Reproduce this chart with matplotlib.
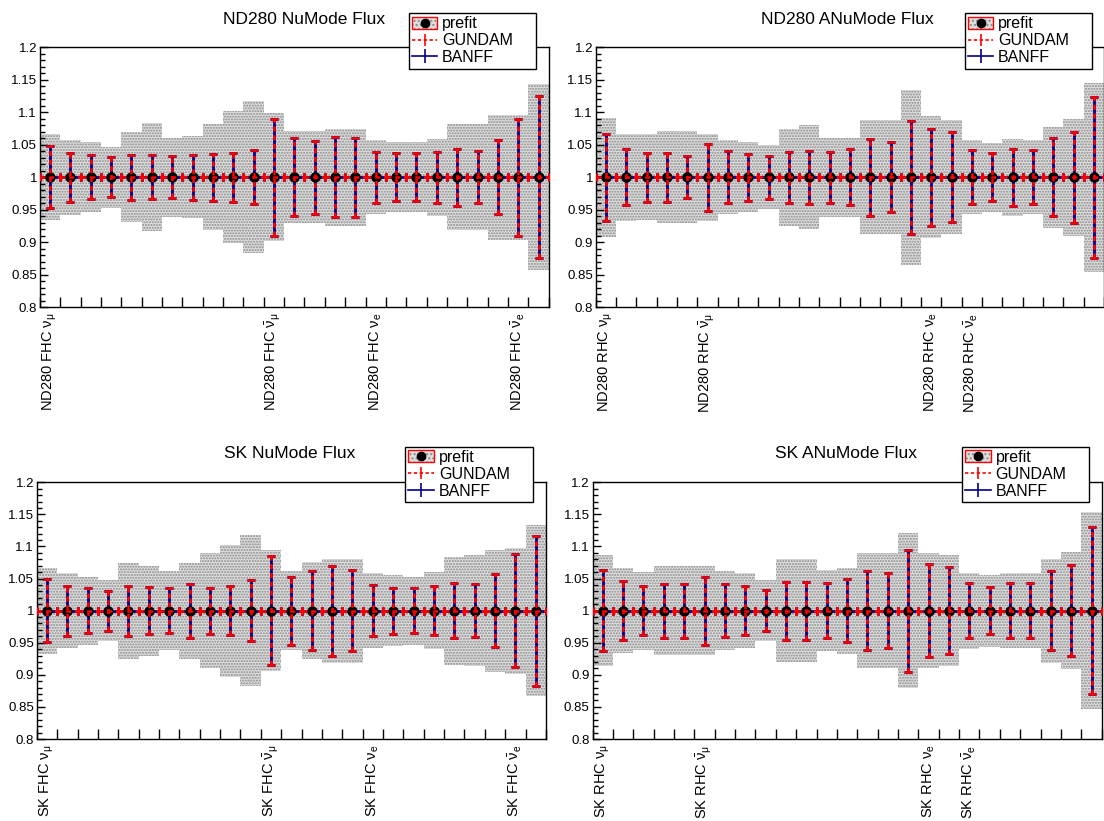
import matplotlib
matplotlib.use('Agg')
import matplotlib.pyplot as plt
import matplotlib.patches as mpatches
from matplotlib.lines import Line2D
from matplotlib.legend_handler import HandlerTuple
from matplotlib.ticker import MultipleLocator, FuncFormatter
import numpy as np

plt.rcParams['font.family'] = ['Liberation Sans', 'DejaVu Sans']
plt.rcParams['mathtext.fontset'] = 'custom'
plt.rcParams['mathtext.rm'] = 'Liberation Sans'
plt.rcParams['mathtext.it'] = 'Liberation Sans'
plt.rcParams['mathtext.bf'] = 'Liberation Sans:bold'

# fractional errors per flux bin (central values are all 1)
nd_fhc_prefit = [0.066, 0.058, 0.054, 0.047, 0.069, 0.083, 0.061, 0.063, 0.082, 0.102, 0.117, 0.099,
                 0.071, 0.071, 0.075, 0.075, 0.057, 0.054, 0.054, 0.059, 0.082, 0.082, 0.096, 0.096, 0.143]
nd_fhc_postfit = [0.048, 0.038, 0.034, 0.031, 0.035, 0.034, 0.032, 0.035, 0.036, 0.038, 0.042, 0.090,
                  0.060, 0.056, 0.062, 0.061, 0.039, 0.037, 0.037, 0.039, 0.044, 0.040, 0.057, 0.090, 0.125]

nd_rhc_prefit = [0.092, 0.067, 0.066, 0.071, 0.071, 0.067, 0.057, 0.054, 0.049, 0.075, 0.080, 0.061,
                 0.061, 0.088, 0.088, 0.135, 0.094, 0.088, 0.057, 0.053, 0.059, 0.057, 0.078, 0.090, 0.146]
nd_rhc_postfit = [0.067, 0.043, 0.038, 0.038, 0.032, 0.052, 0.040, 0.036, 0.033, 0.039, 0.041, 0.039,
                  0.043, 0.059, 0.054, 0.087, 0.075, 0.069, 0.042, 0.037, 0.044, 0.042, 0.060, 0.070, 0.124]

sk_fhc_prefit = [0.067, 0.058, 0.053, 0.048, 0.075, 0.070, 0.062, 0.075, 0.090, 0.103, 0.118, 0.094,
                 0.062, 0.076, 0.081, 0.081, 0.058, 0.055, 0.053, 0.060, 0.084, 0.087, 0.095, 0.098, 0.133]
sk_fhc_postfit = [0.049, 0.039, 0.035, 0.031, 0.039, 0.037, 0.035, 0.042, 0.036, 0.038, 0.047, 0.085,
                  0.053, 0.062, 0.070, 0.063, 0.040, 0.036, 0.035, 0.038, 0.043, 0.041, 0.057, 0.088, 0.117]

sk_rhc_prefit = [0.087, 0.066, 0.061, 0.069, 0.069, 0.069, 0.062, 0.058, 0.048, 0.080, 0.080, 0.063,
                 0.067, 0.090, 0.090, 0.121, 0.090, 0.087, 0.059, 0.056, 0.058, 0.058, 0.081, 0.091, 0.154]
sk_rhc_postfit = [0.063, 0.046, 0.038, 0.042, 0.042, 0.053, 0.041, 0.038, 0.032, 0.045, 0.045, 0.043,
                  0.049, 0.062, 0.058, 0.095, 0.072, 0.068, 0.043, 0.037, 0.043, 0.043, 0.062, 0.071, 0.130]

fhc_starts = [0, 11, 16, 23]
rhc_starts = [0, 5, 16, 18]
fhc_flav = [r'$\nu_{\mu}$', r'$\bar{\nu}_{\mu}$', r'$\nu_{e}$', r'$\bar{\nu}_{e}$']
rhc_flav = [r'$\nu_{\mu}$', r'$\bar{\nu}_{\mu}$', r'$\nu_{e}$', r'$\bar{\nu}_{e}$']

panels = [
    ('ND280 NuMode Flux', 'ND280 FHC', fhc_starts, fhc_flav, nd_fhc_prefit, nd_fhc_postfit, nd_fhc_postfit),
    ('ND280 ANuMode Flux', 'ND280 RHC', rhc_starts, rhc_flav, nd_rhc_prefit, nd_rhc_postfit, nd_rhc_postfit),
    ('SK NuMode Flux', 'SK FHC', fhc_starts, fhc_flav, sk_fhc_prefit, sk_fhc_postfit, sk_fhc_postfit),
    ('SK ANuMode Flux', 'SK RHC', rhc_starts, rhc_flav, sk_rhc_prefit, sk_rhc_postfit, sk_rhc_postfit),
]

W, H = 1104, 821
# axes boxes in pixels: left, right, top, bottom
boxes = [(39.8, 548.8, 47.5, 307), (595.8, 1104, 47.5, 307),
         (36.8, 545.9, 482.3, 739), (592.5, 1101.7, 482.3, 739)]
title_pos = [(304, 19), (847, 19), (290, 453), (846, 453)]
legend_box = [(408.7, 13.3, 535.7), (964.7, 13.3, 1091.7),
              (405.3, 446.7, 533), (962, 446.7, 1088.7)]

band_face = '#dedede'
band_hatch = '#8a8a8a'
red = '#ff0000'
blue = '#00008b'
dash = (0, (2, 1.5))

fig = plt.figure(figsize=(W / 100, H / 100), dpi=100)

for (title, prefix, starts, flav, pre, gundam, banff), (x0, x1, y0, y1), (tx, ty), (lx0, ly0, lx1) in zip(
        panels, boxes, title_pos, legend_box):
    ax = fig.add_axes([x0 / W, 1 - y1 / H, (x1 - x0) / W, (y1 - y0) / H])
    n = len(pre)
    x = np.arange(n) + 0.5
    ones = np.ones(n)
    pre = np.array(pre)

    ax.bar(x, 2 * pre, bottom=1 - pre, width=1.0, facecolor=band_face, edgecolor=band_hatch,
           hatch='......', linewidth=0, zorder=1)

    ax.errorbar(x, ones, yerr=banff, xerr=0.5, fmt='none', ecolor=blue, elinewidth=2,
                capsize=3, capthick=2, zorder=2)
    ax.plot(x, ones, 'o', color='black', ms=6.5, zorder=3)
    eb = ax.errorbar(x, ones, yerr=gundam, xerr=0.5, fmt='none', ecolor=red, elinewidth=1.8,
                     capsize=3, capthick=1.8, zorder=4)
    for lc in eb.lines[2]:
        lc.set_linestyle(dash)

    ax.set_xlim(0, n)
    ax.set_ylim(0.8, 1.2)
    ax.set_xticks(np.arange(n + 1))
    ax.set_xticklabels([])
    ax.set_xticks(np.array(starts) + 0.5, [prefix + ' ' + f for f in flav], minor=True, rotation=90)
    ax.tick_params(axis='x', which='major', direction='in', length=7, width=1, bottom=True, top=False)
    ax.tick_params(axis='x', which='minor', length=0, pad=4, labelsize=10.5)
    ax.yaxis.set_major_locator(MultipleLocator(0.05))
    ax.yaxis.set_minor_locator(MultipleLocator(0.01))
    ax.yaxis.set_major_formatter(FuncFormatter(lambda v, p: f'{v:g}'))
    ax.tick_params(axis='y', which='major', direction='in', length=6, width=1, labelsize=9.5, pad=2)
    ax.tick_params(axis='y', which='minor', direction='in', length=3.5, width=1)
    for s in ax.spines.values():
        s.set_linewidth(1.0)

    fig.text(tx / W, 1 - ty / H, title, ha='center', va='center', fontsize=12.5)

    h_pre = (mpatches.Rectangle((0, 0), 1, 1, facecolor=band_face, edgecolor=band_hatch, hatch='....', lw=0),
             mpatches.Rectangle((0, 0), 1, 1, facecolor='none', edgecolor=red, lw=1),
             Line2D([], [], marker='o', color='black', ls='none', ms=6))
    h_gun = Line2D([], [], color=red, ls=dash, lw=1.2, marker='|', ms=8, mew=1.2)
    h_ban = Line2D([], [], color=blue, ls='-', lw=1.2, marker='|', ms=10, mew=1.2)
    fig.legend([h_pre, h_gun, h_ban], ['prefit', 'GUNDAM', 'BANFF'],
               handler_map={tuple: HandlerTuple(ndivide=1, pad=0)},
               loc='upper left', bbox_to_anchor=(lx0 / W, 1 - ly0 / H, (lx1 - lx0) / W, 0.0),
               mode='expand', borderaxespad=0, fontsize=11.5, frameon=True, fancybox=False,
               edgecolor='black', framealpha=1, handlelength=1.6, handletextpad=0.3,
               labelspacing=0.12, borderpad=0.2, handleheight=0.8)

fig.savefig('out.png', dpi=100)
